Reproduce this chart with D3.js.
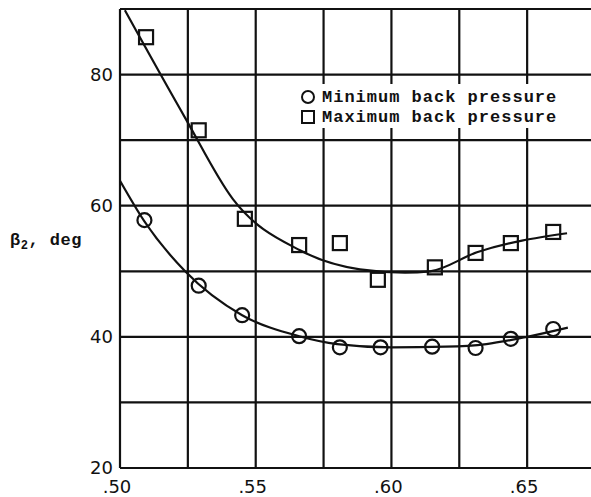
<!DOCTYPE html>
<html>
<head>
<meta charset="utf-8">
<script src="https://cdn.jsdelivr.net/npm/d3@7"></script>
<style>
  body { margin: 0; background: #fff; }
  svg { display: block; }
  .tick-label { font-family: "DejaVu Sans", sans-serif; font-size: 18px; fill: #111; }
  .type { font-family: "Liberation Mono", monospace; font-weight: bold; fill: #111; }
</style>
</head>
<body>
<svg id="chart" width="591" height="497"></svg>
<script>
// measured points
const minX = [0.509, 0.529, 0.545, 0.566, 0.581, 0.596, 0.615, 0.631, 0.644, 0.6596];
const minY = [57.8, 47.8, 43.3, 40.1, 38.4, 38.4, 38.5, 38.3, 39.7, 41.2];
const maxX = [0.5096, 0.529, 0.546, 0.566, 0.581, 0.595, 0.616, 0.631, 0.644, 0.6596];
const maxY = [85.7, 71.5, 58.0, 54.0, 54.3, 48.7, 50.6, 52.8, 54.3, 56.0];

// faired curves
const minCurveX = [0.500, 0.509, 0.524, 0.545, 0.566, 0.580, 0.600, 0.620, 0.635, 0.650, 0.665];
const minCurveY = [63.8, 57.6, 50.0, 43.3, 40.1, 38.9, 38.4, 38.5, 38.9, 40.0, 41.4];
const maxCurveX = [0.5018, 0.524, 0.5416, 0.5663, 0.5884, 0.605, 0.6142, 0.6315, 0.6647];
const maxCurveY = [89.8, 73.4, 61.0, 53.2, 50.3, 49.8, 50.0, 52.9, 55.8];

const xTicks = [0.50, 0.55, 0.60, 0.65];
const xTickLabels = [".50", ".55", ".60", ".65"];
const yTicks = [20, 40, 60, 80];
const xGrid = d3.range(0.50, 0.676, 0.025);
const yGrid = d3.range(20, 91, 10);

const svg = d3.select("#chart");
const x = d3.scaleLinear().domain([0.50, 0.675]).range([120, 595]);
const y = d3.scaleLinear().domain([20, 90]).range([468, 9]);

// grid
svg.append("g").selectAll("line").data(xGrid).join("line")
  .attr("x1", d => x(d)).attr("x2", d => x(d))
  .attr("y1", y(90)).attr("y2", y(20))
  .attr("stroke", "#111").attr("stroke-width", 2.2);
svg.append("g").selectAll("line").data(yGrid).join("line")
  .attr("x1", x(0.50)).attr("x2", 591)
  .attr("y1", d => y(d)).attr("y2", d => y(d))
  .attr("stroke", "#111").attr("stroke-width", 2.2);

// tick labels
svg.append("g").selectAll("text").data(yTicks).join("text")
  .attr("class", "tick-label")
  .attr("x", 113).attr("y", d => y(d) + 6)
  .attr("text-anchor", "end")
  .text(d => d);
svg.append("g").selectAll("text").data(xTicks).join("text")
  .attr("class", "tick-label")
  .attr("x", d => x(d) - 3).attr("y", 493)
  .attr("text-anchor", "middle")
  .text((d, i) => xTickLabels[i]);

// y label
const yl = svg.append("text").attr("class", "type")
  .attr("x", 10).attr("y", 245).style("font-size", "17px").style("letter-spacing", "0.5px");
yl.append("tspan").text("β");
yl.append("tspan").attr("dy", 4).style("font-size", "12px").text("2");
yl.append("tspan").attr("dy", -4).text(", deg");

// curves
const line = d3.line().x(d => x(d[0])).y(d => y(d[1])).curve(d3.curveMonotoneX);
svg.append("path")
  .attr("d", line(d3.zip(maxCurveX, maxCurveY)))
  .attr("fill", "none").attr("stroke", "#111").attr("stroke-width", 2.2);
svg.append("path")
  .attr("d", line(d3.zip(minCurveX, minCurveY)))
  .attr("fill", "none").attr("stroke", "#111").attr("stroke-width", 2.2);

// markers
svg.append("g").selectAll("circle").data(d3.zip(minX, minY)).join("circle")
  .attr("cx", d => x(d[0])).attr("cy", d => y(d[1])).attr("r", 7)
  .attr("fill", "none").attr("stroke", "#111").attr("stroke-width", 2.2);
svg.append("g").selectAll("rect").data(d3.zip(maxX, maxY)).join("rect")
  .attr("x", d => x(d[0]) - 7).attr("y", d => y(d[1]) - 7)
  .attr("width", 14).attr("height", 14)
  .attr("fill", "none").attr("stroke", "#111").attr("stroke-width", 2.2);

// legend
svg.append("rect").attr("x", 294).attr("y", 84).attr("width", 272).attr("height", 44).attr("fill", "#fff");
svg.append("circle").attr("cx", 308).attr("cy", 97).attr("r", 6)
  .attr("fill", "none").attr("stroke", "#111").attr("stroke-width", 2);
svg.append("rect").attr("x", 302).attr("y", 111).attr("width", 12).attr("height", 12)
  .attr("fill", "none").attr("stroke", "#111").attr("stroke-width", 2);
svg.append("text").attr("class", "type").attr("x", 322).attr("y", 102)
  .style("font-size", "17px").style("letter-spacing", "1px")
  .text("Minimum back pressure");
svg.append("text").attr("class", "type").attr("x", 322).attr("y", 122)
  .style("font-size", "17px").style("letter-spacing", "1px")
  .text("Maximum back pressure");
</script>
</body>
</html>
